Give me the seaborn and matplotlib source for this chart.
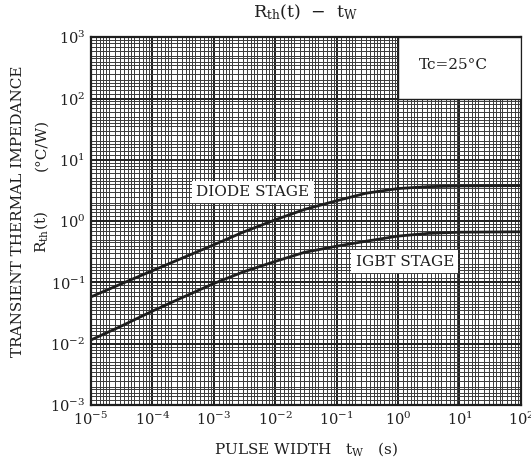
import numpy as np
import pandas as pd
import matplotlib
matplotlib.use("Agg")
import matplotlib.pyplot as plt
import seaborn as sns
from matplotlib.ticker import LogLocator, NullFormatter, FixedLocator, FixedFormatter
from matplotlib.patches import Rectangle

# ---- data ----
tw = [1e-5, 3e-5, 1e-4, 3e-4, 1e-3, 3e-3, 1e-2, 3e-2, 1e-1, 3e-1, 1e0, 3e0, 1e1, 1e2]
diode = [0.058, 0.093, 0.155, 0.247, 0.41, 0.66, 1.05, 1.55, 2.15, 2.85, 3.4, 3.65, 3.75, 3.8]
igbt = [0.0115, 0.019, 0.034, 0.056, 0.096, 0.148, 0.22, 0.31, 0.39, 0.47, 0.57, 0.63, 0.66, 0.67]
x_ticks = [1e-5, 1e-4, 1e-3, 1e-2, 1e-1, 1e0, 1e1, 1e2]
x_labels = [r"$10^{-5}$", r"$10^{-4}$", r"$10^{-3}$", r"$10^{-2}$", r"$10^{-1}$",
            r"$10^{0}$", r"$10^{1}$", r"$10^{2}$"]
y_ticks = [1e-3, 1e-2, 1e-1, 1e0, 1e1, 1e2, 1e3]
y_labels = [r"$10^{-3}$", r"$10^{-2}$", r"$10^{-1}$", r"$10^{0}$", r"$10^{1}$",
            r"$10^{2}$", r"$10^{3}$"]
series_names = ["DIODE STAGE", "IGBT STAGE"]

df = pd.DataFrame({
    "tw": tw * 2,
    "rth": diode + igbt,
    "stage": [series_names[0]] * len(tw) + [series_names[1]] * len(tw),
})

sns.set_style("white")
plt.rcParams["font.family"] = ["DejaVu Serif", "DejaVu Sans"]
plt.rcParams["mathtext.fontset"] = "dejavuserif"

INK = "#1e1e1e"

fig = plt.figure(figsize=(5.31, 4.71), dpi=100)
ax = fig.add_axes([0.171, 0.140, 0.810, 0.781])

sns.lineplot(data=df, x="tw", y="rth", hue="stage",
             palette={series_names[0]: INK, series_names[1]: INK},
             linewidth=2.0, legend=False, ax=ax, zorder=5)

ax.set_xscale("log")
ax.set_yscale("log")
ax.set_xlim(1e-5, 1e2)
ax.set_ylim(1e-3, 1e3)

subs = [1.2, 1.4, 1.6, 1.8, 2, 2.5, 3, 3.5, 4, 4.5, 5, 6, 7, 8, 9]
for axis in (ax.xaxis, ax.yaxis):
    axis.set_minor_locator(LogLocator(base=10, subs=subs, numticks=200))
    axis.set_minor_formatter(NullFormatter())
ax.xaxis.set_major_locator(FixedLocator(x_ticks))
ax.xaxis.set_major_formatter(FixedFormatter(x_labels))
ax.yaxis.set_major_locator(FixedLocator(y_ticks))
ax.yaxis.set_major_formatter(FixedFormatter(y_labels))

ax.grid(which="major", color=INK, linewidth=1.4, zorder=1)
ax.grid(which="minor", color="#3a3a3a", linewidth=0.7, zorder=1)
ax.set_axisbelow(True)
ax.tick_params(which="both", length=0, labelsize=10.5, colors=INK, pad=4)

for sp in ax.spines.values():
    sp.set_linewidth(1.6)
    sp.set_color(INK)

# white box for Tc annotation
ax.add_patch(Rectangle((1e0, 1e2), 1e2 - 1e0, 1e3 - 1e2, facecolor="white",
                       edgecolor=INK, linewidth=1.0, zorder=3))
ax.text(10 ** 0.9, 10 ** 2.55, "Tc=25°C", ha="center", va="center",
        fontsize=11, color=INK, zorder=6)

ax.text(10 ** -2.36, 10 ** 0.48, "DIODE STAGE", ha="center", va="center",
        fontsize=11, color=INK, zorder=6,
        bbox=dict(facecolor="white", edgecolor="none", pad=3))
ax.text(10 ** 0.11, 10 ** -0.66, "IGBT STAGE", ha="center", va="center",
        fontsize=11, color=INK, zorder=6,
        bbox=dict(facecolor="white", edgecolor="none", pad=3))

ax.set_title(r"R$_{\mathrm{th}}$(t)  −  t$_{\mathrm{W}}$", fontsize=12.5, color=INK, pad=14)
ax.set_xlabel(r"PULSE WIDTH   t$_{\mathrm{W}}$   (s)", fontsize=11, color=INK, labelpad=9)
ax.set_ylabel("")

# y axis label (two lines, placed as in the reference)
fig.text(18 / 531, 1 - 211 / 471, "TRANSIENT THERMAL IMPEDANCE", rotation=90,
         ha="center", va="center", fontsize=11, color=INK)
fig.text(41 / 531, 1 - 232 / 471, r"R$_{\mathrm{th}}$(t)", rotation=90,
         ha="center", va="center", fontsize=11, color=INK)
fig.text(41 / 531, 1 - 145 / 471, "(°C/W)", rotation=90,
         ha="center", va="center", fontsize=11, color=INK)

fig.savefig("out.png", dpi=100, facecolor="white")
